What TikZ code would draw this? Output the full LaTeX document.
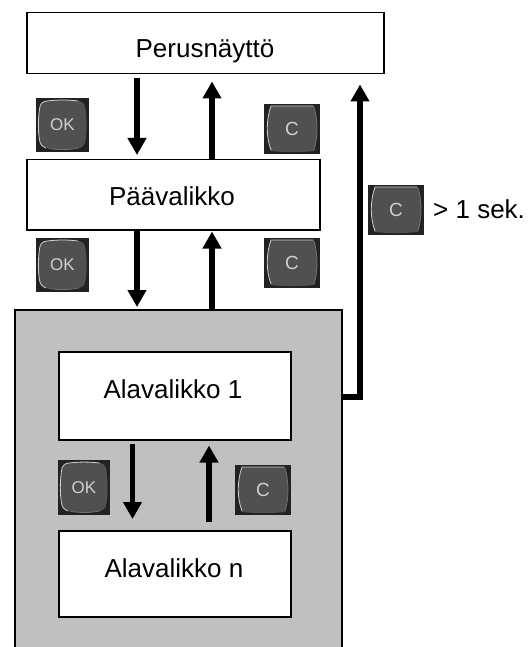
\documentclass[tikz,border=0pt]{standalone}
\usepackage{fontspec}
\setmainfont{Liberation Sans}
\usetikzlibrary{arrows.meta,calc}
\definecolor{panelgray}{HTML}{C0C0C0}
\definecolor{btnbg}{HTML}{222222}
\definecolor{btnface}{HTML}{505050}
\definecolor{btnedge}{HTML}{D0D0D0}
\definecolor{btnlow}{HTML}{707070}
\tikzset{
  x=1pt,y=-1pt,
  menubox/.style={draw=black,line width=1.5pt,fill=white,inner sep=0pt},
  panel/.style={draw=black,line width=1.5pt,fill=panelgray,inner sep=0pt},
  flow/.style={draw=black,line width=5.5pt,miter limit=10,-{Triangle[length=17pt,width=18pt]}},
  btnrim/.style={draw=btnedge,line width=0.8pt,line cap=round},
  btnlowrim/.style={draw=btnlow,line width=0.8pt,line cap=round},
  boxtext/.style={inner sep=0pt,anchor=base,font=\fontsize{26}{30}\selectfont},
  oktext/.style={inner sep=0pt,text=btnedge,font=\fontsize{17}{20}\selectfont},
  ctext/.style={inner sep=0pt,text=btnedge,font=\fontsize{19}{22}\selectfont}
}
\newcommand{\boxat}[4]{% name, x1, y1, x2/y2
  \node[menubox,minimum width=#4,anchor=north west] (#1) at (#2,#3) {};}
% name, left, top, width, height
\newcommand{\okkey}[5]{%
  \begin{scope}[shift={(#2,#3)},xscale=#4/53,yscale=#5/54]
    \fill[btnbg] (0,0) rectangle (53,54);
    \fill[btnface] (11,3) .. controls (22,1.5) and (34,1.5) .. (43,3)
       .. controls (47,3.5) and (49,6) .. (49.5,11)
       .. controls (51,22) and (51,33) .. (49.5,42)
       .. controls (49,47) and (47,49) .. (43,50)
       .. controls (32,52) and (20,52) .. (10,50)
       .. controls (6,49) and (4,47) .. (3.5,42)
       .. controls (2,33) and (2,22) .. (3.5,11)
       .. controls (4,6) and (6,3.5) .. (11,3) -- cycle;
    \draw[btnrim] (42,3) .. controls (32,1.7) and (22,1.7) .. (11,3)
       .. controls (6,3.5) and (4,6) .. (3.5,11)
       .. controls (2,22) and (2,33) .. (3.5,42)
       .. controls (4,46) and (6,48.5) .. (10,50);
    \draw[btnlowrim] (13,50.5) .. controls (24,52) and (32,52) .. (43,50);
  \end{scope}
  \node[oktext] (#1) at ($(#2,#3)+(#4/2,#5/2)$) {OK};}
\newcommand{\ckey}[5]{%
  \begin{scope}[shift={(#2,#3)},xscale=#4/56,yscale=#5/50]
    \fill[btnbg] (0,0) rectangle (56,50);
    \fill[btnface] (7,2) -- (50,2)
       .. controls (54,16) and (54,33) .. (50,47)
       .. controls (36,48.5) and (20,48.5) .. (7,47)
       .. controls (2,33) and (2,16) .. (7,2) -- cycle;
    \draw[btnrim] (49,2) -- (7,2) .. controls (2,16) and (2,33) .. (7,46);
    \draw[btnlowrim] (50,3) .. controls (54,16) and (54,33) .. (50,46);
  \end{scope}
  \node[ctext] (#1) at ($(#2,#3)+(#4/2,#5/2)$) {C};}
\begin{document}
\begin{tikzpicture}
\useasboundingbox[fill=white] (0,0) rectangle (528,647);
\clip (0,0) rectangle (528,647);
\node[panel,minimum width=327pt,minimum height=360pt,anchor=north west] (sub) at (14,309) {};
\node[menubox,minimum width=357pt,minimum height=61pt,anchor=north west] (main) at (26,12) {};
\node[menubox,minimum width=293pt,minimum height=70pt,anchor=north west] (menu) at (26,159) {};
\node[menubox,minimum width=232pt,minimum height=88pt,anchor=north west] (first) at (58,351) {};
\node[menubox,minimum width=232pt,minimum height=86pt,anchor=north west] (nth) at (58,530) {};
\node[boxtext] (maintext) at (205,58) {Perusnäyttö};
\node[boxtext] (menutext) at (172,205) {Päävalikko};
\node[boxtext] (firsttext) at (173,398) {Alavalikko 1};
\node[boxtext] (nthtext) at (174,577) {Alavalikko n};
\okkey{ok1}{36}{98}{53}{54}
\ckey{c1}{264}{104}{56}{50}
\ckey{c3}{368}{185}{56}{50}
\okkey{ok2}{36}{238}{53}{54}
\ckey{c2}{264}{238}{56}{50}
\okkey{ok3}{58}{460}{52}{55}
\ckey{c4}{235}{465}{56}{50}
\node[boxtext,anchor=base west] (sec) at (433,218) {> 1 sek.};
\draw[flow,shorten <=4pt,shorten >=4pt] (main.south -| 137,0) -- (menu.north -| 137,0);
\draw[flow,shorten >=7pt] (menu.north -| 212,0) -- (main.south -| 212,0);
\draw[flow,shorten >=2pt] (menu.south -| 137,0) -- (sub.north -| 137,0);
\draw[flow,shorten >=1pt] (sub.north -| 212,0) -- (menu.south -| 212,0);
\draw[flow,shorten <=3pt,shorten >=11pt] (first.south -| 132.5,0) -- (nth.north -| 132.5,0);
\draw[flow,shorten <=8pt,shorten >=5pt] (nth.north -| 209,0) -- (first.south -| 209,0);
\coordinate (bend) at (360,397);
\draw[flow,shorten >=10pt] (sub.east |- bend) -- (bend) -- (main.south -| bend);
\end{tikzpicture}
\end{document}
